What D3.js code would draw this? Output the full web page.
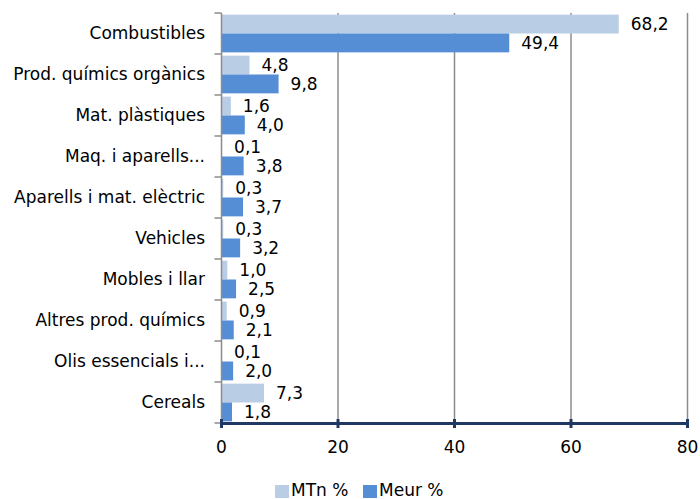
<!DOCTYPE html>
<html><head><meta charset="utf-8">
<script src="https://cdn.jsdelivr.net/npm/d3@7"></script>
<style>body{margin:0;background:#fff}svg{display:block}text{font-family:"DejaVu Sans",sans-serif;fill:#000}</style>
</head><body><svg id="c" width="700" height="499"></svg>
<script>
const categories = ["Combustibles","Prod. químics orgànics","Mat. plàstiques","Maq. i aparells...","Aparells i mat. elèctric","Vehicles","Mobles i llar","Altres prod. químics","Olis essencials i...","Cereals"];
const mtn = [68.2,4.8,1.6,0.1,0.3,0.3,1.0,0.9,0.1,7.3];
const meur = [49.4,9.8,4.0,3.8,3.7,3.2,2.5,2.1,2.0,1.8];
const seriesNames = ["MTn %","Meur %"];
const xTicks = [0,20,40,60,80];
const colors = ["#B9CDE5","#558ED5"];

const svg = d3.select("#c");
const L=221.5, R=687.5, T=13, B=423;
const FS="17px";
const x = d3.scaleLinear().domain([0,80]).range([L,R]);
const y = d3.scaleBand().domain(categories).range([T,B]).paddingInner(0.08).paddingOuter(0.04);
const yb = d3.scaleBand().domain(categories).range([T,B]);
const sub = d3.scaleBand().domain([0,1]).range([0,y.bandwidth()]);
const fmt = v => v.toFixed(1).replace(".",",");

// gridlines
svg.append("g").selectAll("line").data(xTicks.slice(1)).join("line")
  .attr("x1",d=>x(d)).attr("x2",d=>x(d)).attr("y1",T).attr("y2",B)
  .attr("stroke","#8C8C8C").attr("stroke-width",1.5);

// bars
const series=[mtn,meur];
series.forEach((vals,si)=>{
  svg.append("g").selectAll("rect").data(categories).join("rect")
    .attr("x",x(0)).attr("y",(c)=>y(c)+sub(si))
    .attr("width",(c,i)=>x(vals[i])-x(0)).attr("height",sub.bandwidth())
    .attr("fill",colors[si]);
  svg.append("g").selectAll("text").data(categories).join("text")
    .attr("x",(c,i)=>x(vals[i])+12).attr("y",(c)=>y(c)+sub(si)+sub.bandwidth()/2)
    .attr("dy","0.36em").attr("font-size",FS).text((c,i)=>fmt(vals[i]));
});

// left axis
const ly = svg.append("g");
ly.append("line").attr("x1",L).attr("x2",L).attr("y1",T).attr("y2",B).attr("stroke","#8C8C8C").attr("stroke-width",1.5);
const bounds = categories.map(c=>yb(c)).concat([B]);
ly.selectAll("line.t").data(bounds).join("line").attr("class","t")
  .attr("x1",L-7).attr("x2",L).attr("y1",d=>d).attr("y2",d=>d).attr("stroke","#8C8C8C").attr("stroke-width",1.5);
ly.selectAll("text").data(categories).join("text")
  .attr("x",205).attr("y",c=>yb(c)+yb.bandwidth()/2).attr("dy","0.33em")
  .attr("text-anchor","end").attr("font-size",FS).text(d=>d);

// bottom axis
const bx = svg.append("g");
bx.append("line").attr("x1",L-1).attr("x2",R+1).attr("y1",B+0.5).attr("y2",B+0.5).attr("stroke","#1F3864").attr("stroke-width",3);
bx.selectAll("line.t").data(xTicks).join("line").attr("class","t")
  .attr("x1",d=>x(d)).attr("x2",d=>x(d)).attr("y1",B-4).attr("y2",B+5).attr("stroke","#1F3864").attr("stroke-width",3);
bx.selectAll("text").data(xTicks).join("text")
  .attr("x",d=>x(d)).attr("y",453).attr("text-anchor","middle").attr("font-size",FS).text(d=>d);

// legend
const lg = svg.append("g");
const lx=[275,363];
seriesNames.forEach((n,i)=>{
  lg.append("rect").attr("x",lx[i]).attr("y",485).attr("width",14).attr("height",13).attr("fill",colors[i]);
  lg.append("text").attr("x",lx[i]+16).attr("y",496).attr("font-size",FS).text(n);
});
</script></body></html>
